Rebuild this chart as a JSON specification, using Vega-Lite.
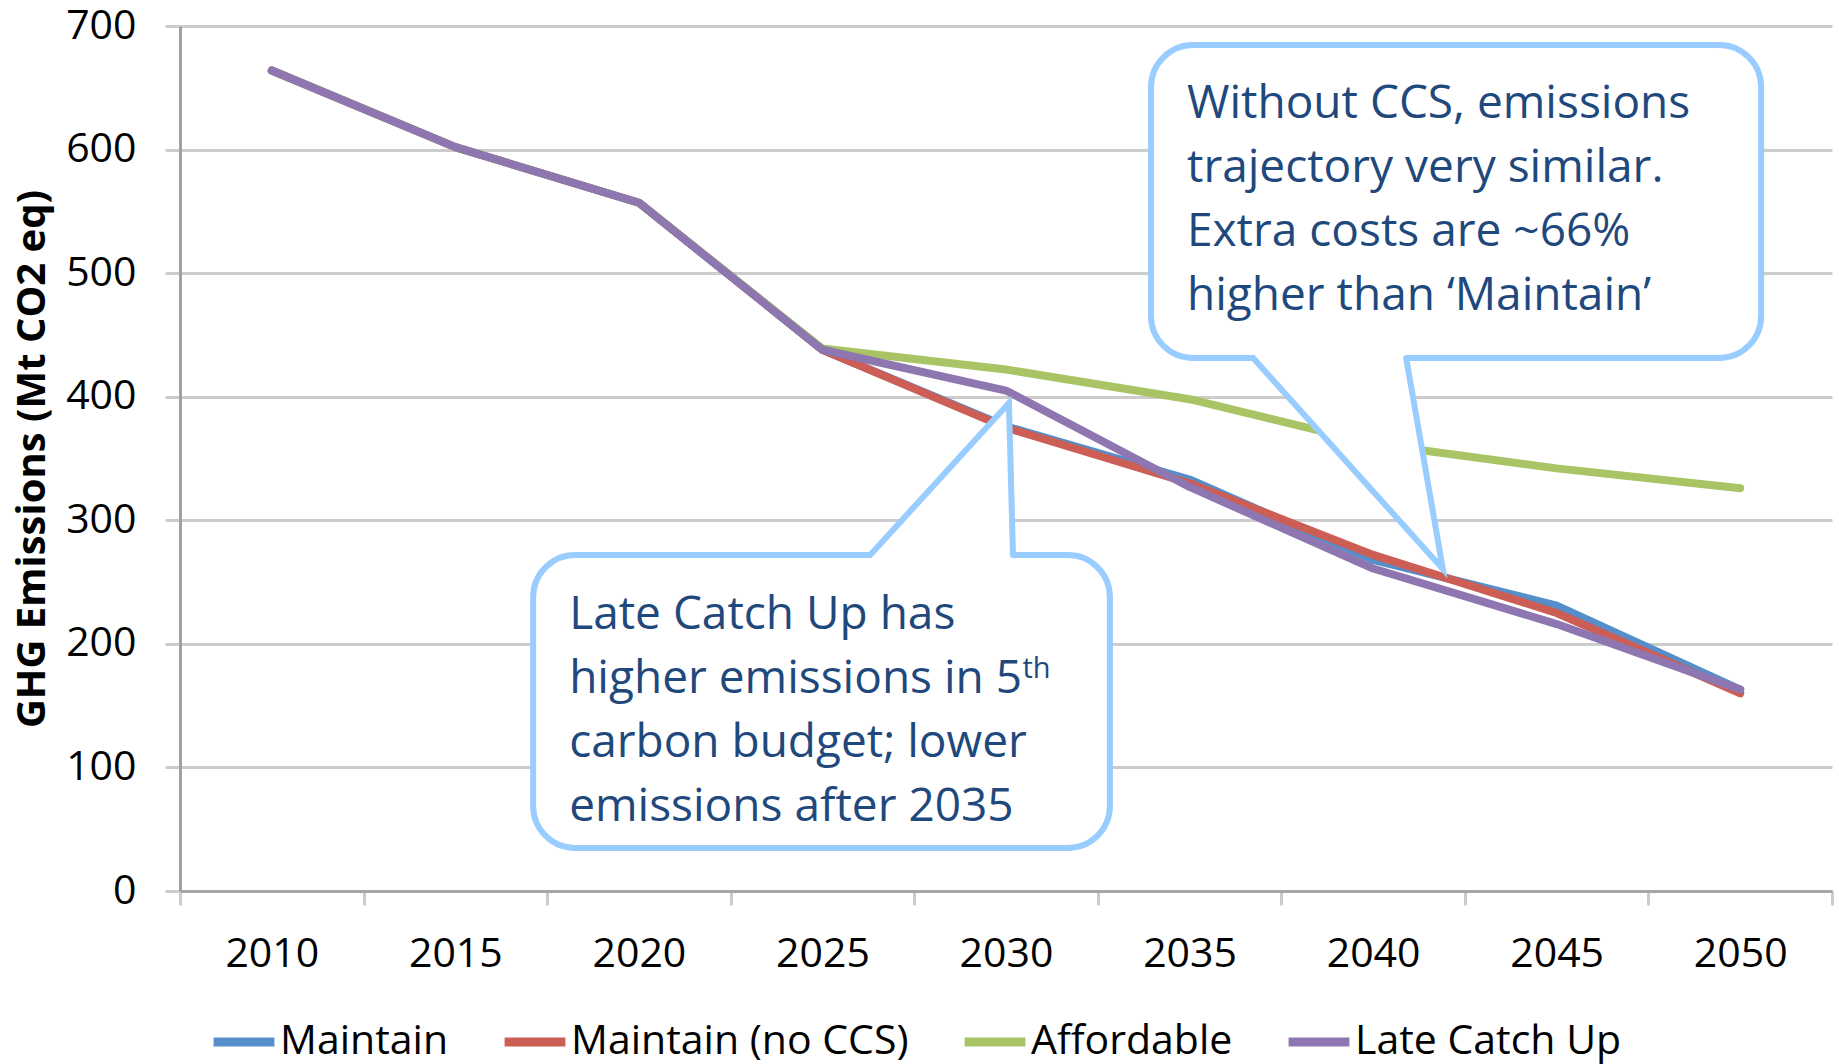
{
  "$schema": "https://vega.github.io/schema/vega-lite/v6.json",
  "width": 1652,
  "height": 865,
  "autosize": {"type": "none"},
  "padding": {"left": 180, "top": 26, "right": 7, "bottom": 173},
  "background": "white",
  "config": {"view": {"stroke": null}, "font": "Open Sans"},
  "datasets": {
    "series": [
      {"year": 2010, "value": 664, "scenario": "Maintain"},
      {"year": 2015, "value": 602, "scenario": "Maintain"},
      {"year": 2020, "value": 557, "scenario": "Maintain"},
      {"year": 2025, "value": 438, "scenario": "Maintain"},
      {"year": 2030, "value": 376, "scenario": "Maintain"},
      {"year": 2035, "value": 333, "scenario": "Maintain"},
      {"year": 2040, "value": 268, "scenario": "Maintain"},
      {"year": 2045, "value": 231, "scenario": "Maintain"},
      {"year": 2050, "value": 163, "scenario": "Maintain"},
      {"year": 2010, "value": 664, "scenario": "Maintain (no CCS)"},
      {"year": 2015, "value": 602, "scenario": "Maintain (no CCS)"},
      {"year": 2020, "value": 557, "scenario": "Maintain (no CCS)"},
      {"year": 2025, "value": 438, "scenario": "Maintain (no CCS)"},
      {"year": 2030, "value": 375, "scenario": "Maintain (no CCS)"},
      {"year": 2035, "value": 330, "scenario": "Maintain (no CCS)"},
      {"year": 2040, "value": 272, "scenario": "Maintain (no CCS)"},
      {"year": 2045, "value": 225, "scenario": "Maintain (no CCS)"},
      {"year": 2050, "value": 160, "scenario": "Maintain (no CCS)"},
      {"year": 2010, "value": 664, "scenario": "Affordable"},
      {"year": 2015, "value": 602, "scenario": "Affordable"},
      {"year": 2020, "value": 557, "scenario": "Affordable"},
      {"year": 2025, "value": 439, "scenario": "Affordable"},
      {"year": 2030, "value": 422, "scenario": "Affordable"},
      {"year": 2035, "value": 398, "scenario": "Affordable"},
      {"year": 2040, "value": 362, "scenario": "Affordable"},
      {"year": 2045, "value": 342, "scenario": "Affordable"},
      {"year": 2050, "value": 326, "scenario": "Affordable"},
      {"year": 2010, "value": 664, "scenario": "Late Catch Up"},
      {"year": 2015, "value": 602, "scenario": "Late Catch Up"},
      {"year": 2020, "value": 557, "scenario": "Late Catch Up"},
      {"year": 2025, "value": 438, "scenario": "Late Catch Up"},
      {"year": 2030, "value": 405, "scenario": "Late Catch Up"},
      {"year": 2035, "value": 327, "scenario": "Late Catch Up"},
      {"year": 2040, "value": 261, "scenario": "Late Catch Up"},
      {"year": 2045, "value": 216, "scenario": "Late Catch Up"},
      {"year": 2050, "value": 163, "scenario": "Late Catch Up"}
    ],
    "boxes": [
      {"id": "upper", "bx1": 2033.95, "bx2": 2050.57, "by1": 684.6, "by2": 431.3},
      {"id": "lower", "bx1": 2017.12, "bx2": 2032.83, "by1": 271.9, "by2": 34.8}
    ],
    "pointerFill": [
      {"id": "upper", "px": 2036.73, "py": 431.3, "py2": 431.3},
      {"id": "upper", "px": 2040.9, "py": 431.3, "py2": 293.6},
      {"id": "upper", "px": 2041.9, "py": 260.6, "py2": 260.6},
      {"id": "lower", "px": 2026.3, "py": 271.9, "py2": 271.9},
      {"id": "lower", "px": 2030.08, "py": 271.9, "py2": 394.9},
      {"id": "lower", "px": 2030.19, "py": 271.9, "py2": 271.9}
    ],
    "gaps": [
      {"id": "upper", "gx1": 2036.73, "gx2": 2040.9, "gy": 431.3},
      {"id": "lower", "gx1": 2026.3, "gx2": 2030.19, "gy": 271.9}
    ],
    "pointerLines": [
      {"id": "upper", "i": 1, "lx": 2036.73, "ly": 431.3},
      {"id": "upper", "i": 2, "lx": 2041.9, "ly": 260.6},
      {"id": "upper", "i": 3, "lx": 2040.9, "ly": 431.3},
      {"id": "lower", "i": 1, "lx": 2026.3, "ly": 271.9},
      {"id": "lower", "i": 2, "lx": 2030.08, "ly": 394.9},
      {"id": "lower", "i": 3, "lx": 2030.19, "ly": 271.9}
    ],
    "notes": [
      {"tx": 2034.93, "ty": 625.2, "note": "Without CCS, emissions|trajectory very similar.|Extra costs are ~66%|higher than \u2018Maintain\u2019"},
      {"tx": 2018.1, "ty": 212.4, "note": "Late Catch Up has|higher emissions in 5|carbon budget; lower|emissions after 2035"}
    ],
    "sup": [
      {"tx": 2030.45, "ty": 172.4, "note": "th"}
    ]
  },
  "layer": [
    {
      "data": {"name": "series"},
      "mark": {"type": "line", "strokeWidth": 8, "strokeCap": "round", "strokeJoin": "round"},
      "encoding": {
        "x": {
          "field": "year", "type": "quantitative",
          "scale": {"domain": [2007.5, 2052.5], "nice": false, "zero": false},
          "axis": {
            "title": null,
            "values": [2007.5, 2012.5, 2017.5, 2022.5, 2027.5, 2032.5, 2037.5, 2042.5, 2047.5, 2052.5],
            "labelExpr": "datum.value < 2050 ? format(datum.value + 2.5, 'd') : ''",
            "labelOffset": 91.78,
            "grid": false,
            "ticks": true,
            "tickSize": 14,
            "tickColor": "#CCCCCC",
            "tickWidth": 3,
            "domainColor": "#A6A6A6",
            "domainWidth": 3,
            "labelFont": "Open Sans",
            "labelFontSize": 41,
            "labelColor": "#000000",
            "labelPadding": 29,
            "labelOverlap": false,
            "labelFlush": false,
            "labelBound": false
          }
        },
        "y": {
          "field": "value", "type": "quantitative",
          "scale": {"domain": [0, 700], "nice": false},
          "axis": {
            "title": "GHG Emissions (Mt CO2 eq)",
            "values": [0, 100, 200, 300, 400, 500, 600, 700],
            "grid": true,
            "gridColor": "#CCCCCC",
            "gridWidth": 3,
            "ticks": true,
            "tickSize": 15,
            "tickColor": "#CCCCCC",
            "tickWidth": 3,
            "domainColor": "#A0A0A0",
            "domainWidth": 3,
            "labelFont": "Open Sans",
            "labelFontSize": 41,
            "labelColor": "#000000",
            "labelPadding": 29,
            "labelFlush": false,
            "labelOverlap": false,
            "titleFont": "Open Sans",
            "titleFontSize": 40,
            "titleFontWeight": "bold",
            "titleColor": "#000000",
            "titlePadding": 13
          }
        },
        "color": {
          "field": "scenario", "type": "nominal",
          "scale": {
            "domain": ["Maintain", "Maintain (no CCS)", "Affordable", "Late Catch Up"],
            "range": ["#558EC9", "#CD5E55", "#A8C464", "#8E76B0"]
          },
          "legend": {
            "title": null,
            "orient": "none",
            "legendX": 29,
            "legendY": 981,
            "direction": "horizontal",
            "symbolType": "stroke",
            "symbolStrokeWidth": 9,
            "symbolSize": 3700,
            "labelFont": "Open Sans",
            "labelFontSize": 41,
            "labelColor": "#000000",
            "labelOffset": 1,
            "labelLimit": 1000,
            "columnPadding": 37,
            "padding": 0
          }
        }
      }
    },
    {
      "data": {"name": "boxes"},
      "mark": {"type": "rect", "fill": "white", "stroke": "#99CCFF", "strokeWidth": 6, "cornerRadius": 42},
      "encoding": {
        "x": {"field": "bx1", "type": "quantitative"},
        "x2": {"field": "bx2"},
        "y": {"field": "by1", "type": "quantitative"},
        "y2": {"field": "by2"}
      }
    },
    {
      "data": {"name": "pointerFill"},
      "mark": {"type": "area", "fill": "white", "opacity": 1, "orient": "vertical"},
      "encoding": {
        "x": {"field": "px", "type": "quantitative"},
        "y": {"field": "py", "type": "quantitative"},
        "y2": {"field": "py2"},
        "detail": {"field": "id", "type": "nominal"}
      }
    },
    {
      "data": {"name": "gaps"},
      "mark": {"type": "rule", "stroke": "white", "strokeWidth": 9},
      "encoding": {
        "x": {"field": "gx1", "type": "quantitative"},
        "x2": {"field": "gx2"},
        "y": {"field": "gy", "type": "quantitative"}
      }
    },
    {
      "data": {"name": "pointerLines"},
      "mark": {"type": "line", "stroke": "#99CCFF", "strokeWidth": 6, "strokeJoin": "miter", "strokeCap": "round"},
      "encoding": {
        "x": {"field": "lx", "type": "quantitative"},
        "y": {"field": "ly", "type": "quantitative"},
        "order": {"field": "i", "type": "quantitative"},
        "detail": {"field": "id", "type": "nominal"}
      }
    },
    {
      "data": {"name": "notes"},
      "mark": {"type": "text", "align": "left", "baseline": "alphabetic", "font": "Open Sans", "fontSize": 46, "color": "#1F497D", "lineBreak": "|", "lineHeight": 64},
      "encoding": {
        "x": {"field": "tx", "type": "quantitative"},
        "y": {"field": "ty", "type": "quantitative"},
        "text": {"field": "note", "type": "nominal"}
      }
    },
    {
      "data": {"name": "sup"},
      "mark": {"type": "text", "align": "left", "baseline": "alphabetic", "font": "Open Sans", "fontSize": 29, "color": "#1F497D"},
      "encoding": {
        "x": {"field": "tx", "type": "quantitative"},
        "y": {"field": "ty", "type": "quantitative"},
        "text": {"field": "note", "type": "nominal"}
      }
    }
  ]
}
